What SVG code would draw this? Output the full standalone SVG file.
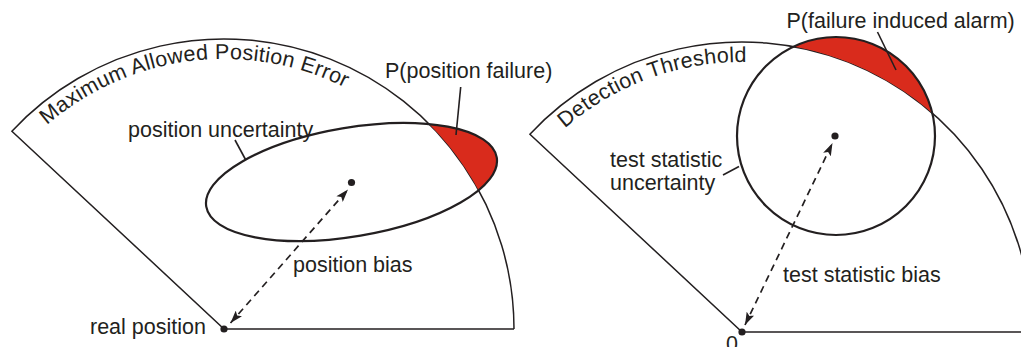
<svg xmlns="http://www.w3.org/2000/svg" xmlns:xlink="http://www.w3.org/1999/xlink" width="1021" height="347" viewBox="0 0 1021 347">
<style>
text{font-family:"Liberation Sans",Arial,sans-serif;font-size:21.5px;fill:#231f20}
.arct{letter-spacing:0.3px}
.out{fill:none;stroke:#231f20;stroke-width:1.5}
.thick{fill:none;stroke:#231f20;stroke-width:2.2}
.lead{fill:none;stroke:#231f20;stroke-width:1.6}
.red{fill:#d92b1c}
.dash{fill:none;stroke:#231f20;stroke-width:1.7;stroke-dasharray:7 5;marker-start:url(#ah);marker-end:url(#ah)}
.dot{fill:#231f20}
</style>
<defs>
<marker id="ah" viewBox="0 0 12 8" refX="12" refY="4" markerWidth="13" markerHeight="8.5" markerUnits="userSpaceOnUse" orient="auto-start-reverse">
<path d="M0,0 L12,4 L0,8 L2.5,4 Z" fill="#231f20"/>
</marker>
<clipPath id="outL"><path clip-rule="evenodd" d="M-400 -400H1400V800H-400Z M514 329 A290 290 0 1 0 -66 329 A290 290 0 1 0 514 329 Z"/></clipPath>
<clipPath id="outR"><path clip-rule="evenodd" d="M-400 -400H1400V800H-400Z M1032 332 A290 290 0 1 0 452 332 A290 290 0 1 0 1032 332 Z"/></clipPath>
<path id="arcL" d="M46.9 125.2 A270 270 0 0 1 494 329"/>
<path id="arcR" d="M564.9 128.2 A270 270 0 0 1 1012 332"/>
</defs>

<g id="left-sector">
<path class="out" d="M514 329 H224 L11.9 131.2 A290 290 0 0 1 514 329"/>
<text class="arct"><textPath xlink:href="#arcL" href="#arcL">Maximum Allowed Position Error</textPath></text>
</g>

<g id="position-failure">
<g clip-path="url(#outL)">
<ellipse class="red" cx="351.5" cy="182" rx="147.3" ry="54.4" transform="rotate(-9.6 351.5 182)"/>
</g>
<text x="385" y="78">P(position failure)</text>
</g>

<g id="position-uncertainty">
<ellipse class="thick" cx="351.5" cy="182" rx="147.3" ry="54.4" transform="rotate(-9.6 351.5 182)"/>
<text x="128" y="137">position uncertainty</text>
</g>

<g id="real-position">
<circle class="dot" cx="224" cy="329" r="3.6"/>
<text x="90" y="334">real position</text>
</g>

<g id="position-center">
<circle class="dot" cx="351.5" cy="182.5" r="3.6"/>
</g>

<g id="position-bias-label">
<text x="293" y="272">position bias</text>
</g>

<g id="right-sector">
<path class="out" d="M1030 332 H742 L529.9 134.2 A290 290 0 0 1 1032 332"/>
<text class="arct"><textPath xlink:href="#arcR" href="#arcR">Detection Threshold</textPath></text>
</g>

<g id="failure-alarm">
<circle class="red" cx="836" cy="136" r="99" clip-path="url(#outR)"/>
<text x="786.5" y="28">P(failure induced alarm)</text>
</g>

<g id="test-uncertainty">
<circle class="thick" cx="836" cy="136" r="99"/>
<text x="610" y="167">test statistic</text>
<text x="610" y="190">uncertainty</text>
</g>

<g id="zero">
<circle class="dot" cx="742" cy="332" r="3.6"/>
<text x="726" y="351">0</text>
</g>

<g id="test-center">
<circle class="dot" cx="835" cy="136" r="3.6"/>
</g>

<g id="test-bias-label">
<text x="783" y="282">test statistic bias</text>
</g>

<g id="connectors">
<line class="dash" x1="230.5" y1="323" x2="348" y2="189.5"/>
<line class="dash" x1="745" y1="325" x2="832.5" y2="143"/>
<line class="lead" x1="460.7" y1="87" x2="456" y2="135"/>
<line class="lead" x1="235" y1="140" x2="245.5" y2="159.5"/>
<line class="lead" x1="723" y1="175" x2="739" y2="166.5"/>
<line class="lead" x1="877.5" y1="32" x2="896" y2="70"/>
</g>
</svg>
